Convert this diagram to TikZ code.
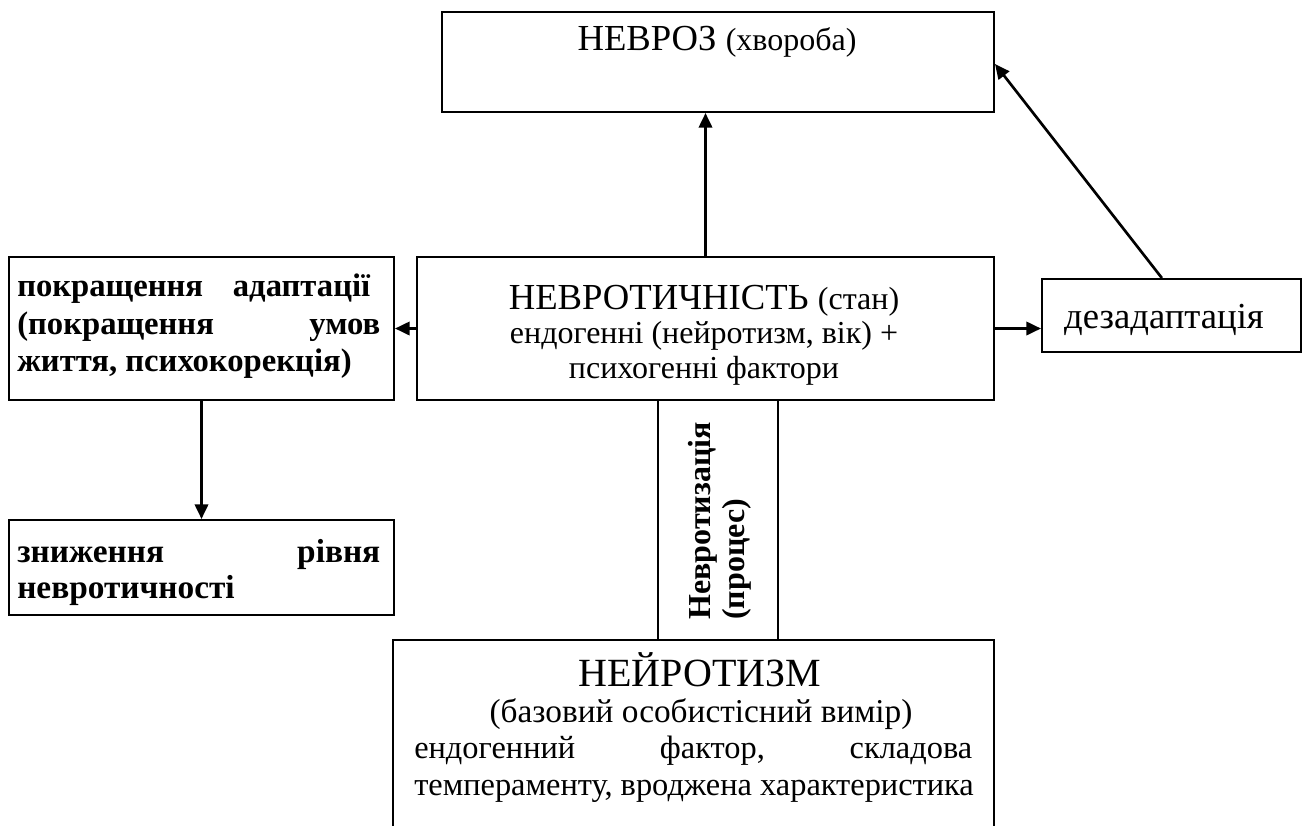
\documentclass[tikz,border=0pt]{standalone}
\usepackage{fontspec}
\setmainfont{Liberation Serif}
\usetikzlibrary{arrows.meta,calc}
\newcommand\fbig{\fontsize{27.5}{32}\selectfont}
\newcommand\fnorm{\fontsize{24}{27.75}\selectfont}
\begin{document}
\begin{tikzpicture}[x=0.75pt,y=-0.75pt,
  box/.style={draw,line width=1.5pt,rectangle,inner sep=0pt,anchor=north west},
  arr/.style={line width=2pt,-{Triangle[length=11pt,width=10pt]}},
  txt/.style={inner sep=0pt,anchor=base},
  txtl/.style={inner sep=0pt,anchor=base west}]
\path[use as bounding box,clip] (0,0) rectangle (1307,825);
% boxes
\node[box,minimum width=414pt,minimum height=75pt] (top) at (441,11) {};
\node[box,minimum width=432.75pt,minimum height=107.25pt] (mid) at (416,256) {};
\node[box,minimum width=288.75pt,minimum height=107.25pt] (left1) at (8,256) {};
\node[box,minimum width=288.75pt,minimum height=71.25pt] (left2) at (8,519) {};
\node[box,minimum width=194.25pt,minimum height=54.75pt] (des) at (1041,278) {};
\node[box,minimum width=90pt,minimum height=180pt] (vert) at (657,399) {};
\node[box,minimum width=450.75pt,minimum height=165pt] (bot) at (392,639) {};
% texts
\node[txt] (tTop) at (717,50) {\fbig НЕВРОЗ \fnorm(хвороба)};
\node[txt] (m1) at (704,309) {\fbig НЕВРОТИЧНІСТЬ \fnorm(стан)};
\node[txt] (m2) at (704,343) {\fnorm ендогенні (нейротизм, вік) +};
\node[txt] (m3) at (704,378) {\fnorm психогенні фактори};
\node[txtl] (l1a) at (17,296) {\fontsize{24.5}{28}\selectfont\bfseries\hbox to 264.75pt{покращення\hfill адаптації}};
\node[txtl] (l1b) at (17,334) {\fontsize{24.5}{28}\selectfont\bfseries\hbox to 272.25pt{(покращення\hfill умов}};
\node[txtl] (l1c) at (17,371) {\fontsize{24.5}{28}\selectfont\bfseries життя, психокорекція)};
\node[txtl] (l2a) at (17,562) {\fontsize{25}{28}\selectfont\bfseries\hbox to 272.25pt{зниження\hfill рівня}};
\node[txtl] (l2b) at (17,598) {\fontsize{25}{28}\selectfont\bfseries невротичності};
\node[txt] (dtx) at (1164,328) {\fbig дезадаптація};
\node[txtl,rotate=90] (v1) at (710,620) {\fnorm\bfseries Невротизація};
\node[txtl,rotate=90] (v2) at (744,620) {\fnorm\bfseries (процес)};
\node[txt] (b1) at (700,686) {\fontsize{30}{34}\selectfont НЕЙРОТИЗМ};
\node[txt] (b2) at (701,722) {\fontsize{25}{28}\selectfont (базовий особистісний вимір)};
\node[txtl] (b3) at (414,758) {\fontsize{24.3}{28}\selectfont\hbox to 418.5pt{ендогенний\hfill фактор,\hfill складова}};
\node[txtl] (b4) at (414,795) {\fontsize{24.3}{28}\selectfont темпераменту, вроджена характеристика};
% connectors
\draw[arr] (mid.north) -- (mid.north |- top.south);
\draw[arr] (mid.west) -- (mid.west -| left1.east);
\draw[arr] (mid.east) -- (mid.east -| des.west);
\draw[arr] (left1.south) -- (left1.south |- left2.north);
\coordinate (dstart) at ($(des.north west)!0.463!(des.north east)$);
\coordinate (dend) at ($(top.north east)!0.52!(top.south east)$);
\draw[arr] (dstart) -- (dend);
\end{tikzpicture}
\end{document}
